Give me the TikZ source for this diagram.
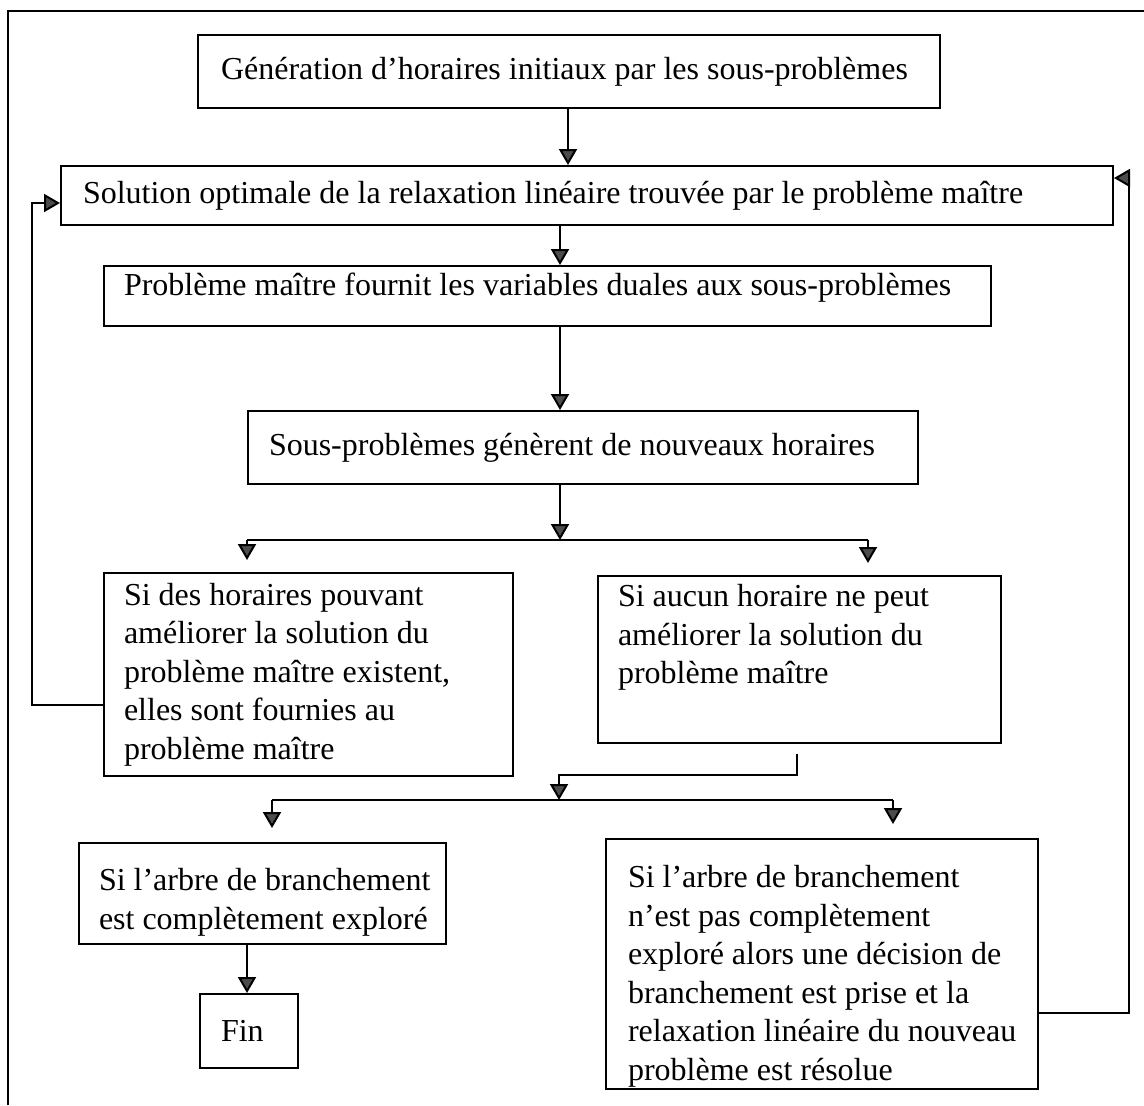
\documentclass[tikz,border=0pt]{standalone}
\usepackage{fontspec}
\setmainfont{Liberation Serif}
\usetikzlibrary{arrows.meta,calc}

% box contents: width, height, left inset, text (vertically centred)
\newcommand{\midtext}[4]{\parbox[c][#2][c]{#1}{\raggedright\leftskip=#3\relax #4}}
% box contents: width, height, left inset, top inset, text (top aligned)
\newcommand{\toptext}[5]{\parbox[c][#2][t]{#1}{\vspace*{#4}\raggedright\leftskip=#3\relax\strut #5}}

\begin{document}
\begin{tikzpicture}[x=0.5pt,y=-0.5pt,
  font=\fontsize{16}{19.25}\selectfont,
  box/.style={draw=black, line width=1pt, anchor=north west, inner sep=0pt},
  link/.style={draw=black, line width=1pt},
  flow/.style={link, -{Triangle[width=9pt,length=8pt,fill=black!70]}}]
\useasboundingbox (0,0) rectangle (1144,1105);

% page frame
\draw[link] (8,1105) -- (8,11) -- (1144,11);

% steps
\node[box] (gen) at (197,34) {\midtext{371pt}{36.5pt}{11.5pt}{Génération d’horaires initiaux par les sous-problèmes}};
\node[box] (sol) at (60,165) {\midtext{526pt}{29.5pt}{11pt}{Solution optimale de la relaxation linéaire trouvée par le problème maître}};
\node[box] (dual) at (103,265) {\toptext{443.5pt}{30pt}{10pt}{1.5pt}{Problème maître fournit les variables duales aux sous-problèmes}};
\node[box] (gen2) at (247,410) {\midtext{335pt}{36.5pt}{10.5pt}{Sous-problèmes génèrent de nouveaux horaires}};
\node[box] (imp) at (103,572) {\midtext{204.5pt}{101.5pt}{10pt}{Si des horaires pouvant\\améliorer la solution du\\problème maître existent,\\elles sont fournies au\\problème maître}};
\node[box] (none) at (597,575) {\toptext{201.5pt}{83.5pt}{10pt}{2pt}{Si aucun horaire ne peut\\améliorer la solution du\\problème maître}};
\node[box] (done) at (78,842) {\toptext{183.5pt}{50.5pt}{10pt}{10.5pt}{Si l’arbre de branchement\\est complètement exploré}};
\node[box] (fin) at (199,993) {\midtext{49pt}{37pt}{10.5pt}{Fin}};
\node[box] (open) at (605,838) {\toptext{216pt}{125pt}{11pt}{11pt}{Si l’arbre de branchement\\n’est pas complètement\\exploré alors une décision de\\branchement est prise et la\\relaxation linéaire du nouveau\\problème est résolue}};

% main chain
\coordinate (m1) at (568,0);
\coordinate (m2) at (560,0);
\draw[flow] (gen.south -| m1) -- (sol.north -| m1);
\draw[flow] (sol.south -| m2) -- (dual.north -| m2);
\draw[flow] (dual.south -| m2) -- (gen2.north -| m2);

% first fork
\coordinate (fork1) at (560,540);
\coordinate (fork1l) at (247,540);
\coordinate (fork1r) at (868,540);
\draw[flow] (gen2.south -| fork1) -- (fork1);
\draw[link] (fork1l) -- (fork1r);
\draw[flow, shorten >=6pt] (fork1l) -- (imp.north -| fork1l);
\draw[flow, shorten >=6pt] (fork1r) -- (none.north -| fork1r);

% second fork
\coordinate (join) at (797,775);
\coordinate (fork2) at (559,800);
\coordinate (fork2l) at (272,800);
\coordinate (fork2r) at (893,800);
\draw[flow] ([yshift=-5pt]none.south -| join) -- (join) -| (fork2);
\draw[link] (fork2l) -- (fork2r);
\draw[flow, shorten >=7pt] (fork2l) -- (done.north -| fork2l);
\draw[flow, shorten >=7pt] (fork2r) -- (open.north -| fork2r);
\coordinate (d) at (247,0);
\draw[flow] (done.south -| d) -- (fin.north -| d);

% feedback loops to the master problem
\coordinate (lb) at (32,705);
\coordinate (lt) at (32,203);
\draw[flow] (imp.west |- lb) -- (lb) -- (lt) -- (sol.west |- lt);
\coordinate (rb) at (1129,1013);
\coordinate (rt) at (1129,178);
\draw[flow] (open.east |- rb) -- (rb) -- (rt) -- (sol.east |- rt);
\end{tikzpicture}
\end{document}
